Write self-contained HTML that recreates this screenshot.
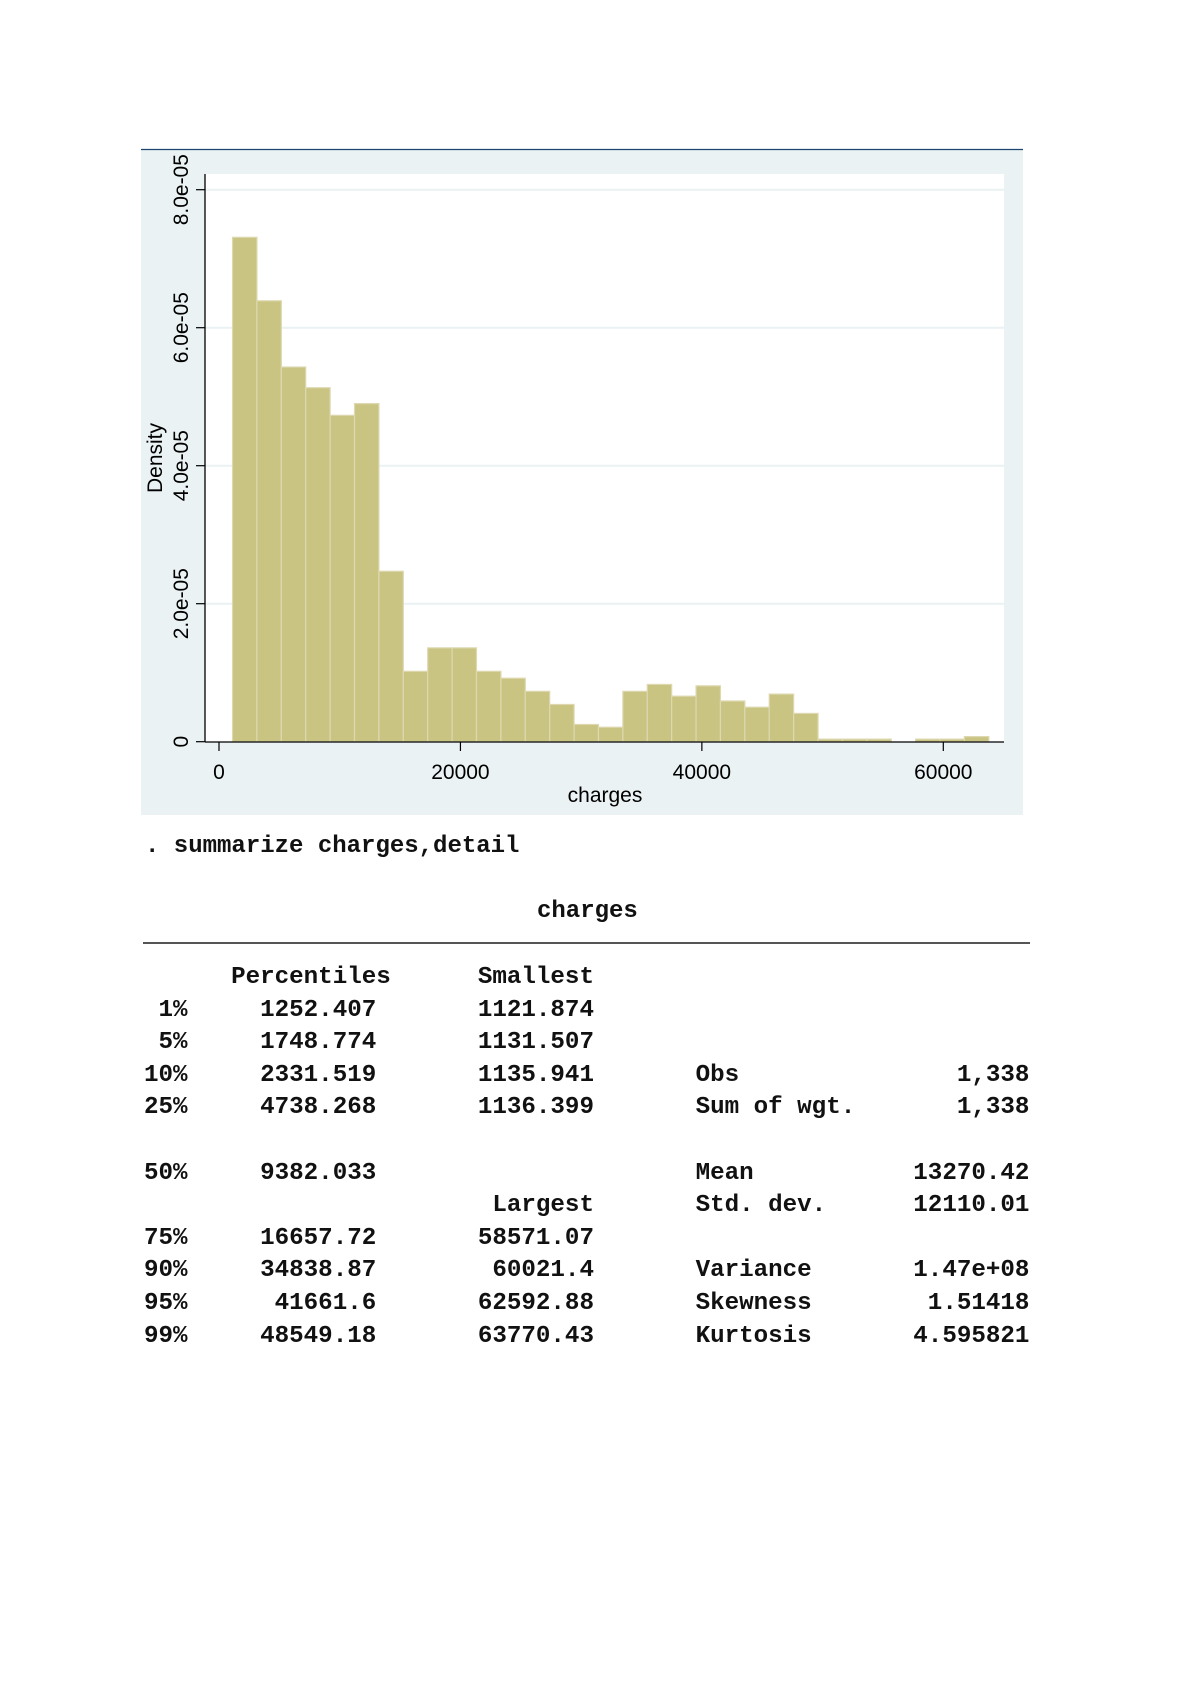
<!DOCTYPE html>
<html><head><meta charset="utf-8">
<style>
html,body{margin:0;padding:0;background:#fff;}
body{width:1192px;height:1684px;position:relative;overflow:hidden;}
.mono{font-family:"Liberation Mono",monospace;font-size:24px;color:#111;position:absolute;white-space:pre;margin:0;}
</style></head>
<body>
<svg id="chart" width="1192" height="830" style="position:absolute;left:0;top:0" xmlns="http://www.w3.org/2000/svg">
<rect x="141" y="149" width="882" height="666" fill="#eaf2f3"/>
<line x1="141" y1="149.5" x2="1023" y2="149.5" stroke="#1a476f" stroke-width="1.2"/>
<rect x="205" y="174" width="799" height="568" fill="#ffffff"/>
<g id="grid"></g><g id="bars"></g><g id="axes"></g>
</svg>
<script>
const binStart = 1121.874;
const binWidth = 2020.9;
const densities = [7.31,6.39,5.43,5.13,4.73,4.90,2.47,1.02,1.36,1.36,1.02,0.92,0.73,0.54,0.25,0.21,0.73,0.83,0.66,0.81,0.59,0.50,0.69,0.41,0.037,0.037,0.037,0,0.037,0.037,0.074];
const xTicks = [0,20000,40000,60000];
const xTickLabels = ["0","20000","40000","60000"];
const yTicks = [0,2,4,6,8];
const yTickLabels = ["0","2.0e-05","4.0e-05","6.0e-05","8.0e-05"];
const NS="http://www.w3.org/2000/svg";
function xs(v){return 219+v*(943.3-219)/60000;}
function ys(v){return 741.7-v*69;}
function mk(tag,attrs,parent){const e=document.createElementNS(NS,tag);for(const k in attrs)e.setAttribute(k,attrs[k]);parent.appendChild(e);return e;}
const grid=document.getElementById('grid'),bars=document.getElementById('bars'),axes=document.getElementById('axes');
yTicks.forEach((t,i)=>{
  if(t>0){const g=mk('line',{x1:205,x2:1004,y1:ys(t),y2:ys(t),stroke:'#eaf2f3','stroke-width':2},grid);
  
  }
});
densities.forEach((d,i)=>{
  if(d<=0)return;
  const x0=xs(binStart+i*binWidth),x1=xs(binStart+(i+1)*binWidth);
  const r=mk('rect',{x:x0,y:ys(d),width:x1-x0,height:ys(0)-ys(d),fill:'#cac483',stroke:'#ddd8b0','stroke-width':1.2},bars);
  
  
});
const ya=mk('line',{x1:205,x2:205,y1:174,y2:742,stroke:'#000','stroke-width':1.3},axes);


const xa=mk('line',{x1:205,x2:1004,y1:742,y2:742,stroke:'#000','stroke-width':1.3},axes);


yTicks.forEach((t,i)=>{
  mk('line',{x1:196,x2:205,y1:ys(t),y2:ys(t),stroke:'#000','stroke-width':1.2},axes);
  const tx=mk('text',{x:0,y:0,transform:`translate(188,${ys(t)}) rotate(-90)`,'text-anchor':'middle','font-family':'Liberation Sans, sans-serif','font-size':21,fill:'#000'},axes);
  tx.textContent=yTickLabels[i];
  
  
});
xTicks.forEach((t,i)=>{
  mk('line',{x1:xs(t),x2:xs(t),y1:742,y2:751,stroke:'#000','stroke-width':1.2},axes);
  const tx=mk('text',{x:xs(t),y:779,'text-anchor':'middle','font-family':'Liberation Sans, sans-serif','font-size':21,fill:'#000'},axes);
  tx.textContent=xTickLabels[i];
  
  
});
const xt=mk('text',{x:605,y:802,'text-anchor':'middle','font-family':'Liberation Sans, sans-serif','font-size':21,fill:'#000'},axes);
xt.textContent='charges';


const yt=mk('text',{x:0,y:0,transform:'translate(162,458) rotate(-90)','text-anchor':'middle','font-family':'Liberation Sans, sans-serif','font-size':21,fill:'#000'},axes);
yt.textContent='Density';


</script>

<pre class="mono" style="left:145px;top:831px;line-height:32px;font-weight:bold">. summarize charges,detail</pre>
<pre class="mono" style="left:537px;top:896px;line-height:32px;font-weight:bold">charges</pre>
<div style="position:absolute;left:143px;top:942px;width:887px;height:2px;background:#555"></div>
<pre class="mono" style="left:144px;top:962px;line-height:32.6px;font-weight:bold;font-size:24.2px">      Percentiles      Smallest
 1%     1252.407       1121.874
 5%     1748.774       1131.507
10%     2331.519       1135.941       Obs               1,338
25%     4738.268       1136.399       Sum of wgt.       1,338

50%     9382.033                      Mean           13270.42
                        Largest       Std. dev.      12110.01
75%     16657.72       58571.07
90%     34838.87        60021.4       Variance       1.47e+08
95%      41661.6       62592.88       Skewness        1.51418
99%     48549.18       63770.43       Kurtosis       4.595821</pre>
</body></html>
